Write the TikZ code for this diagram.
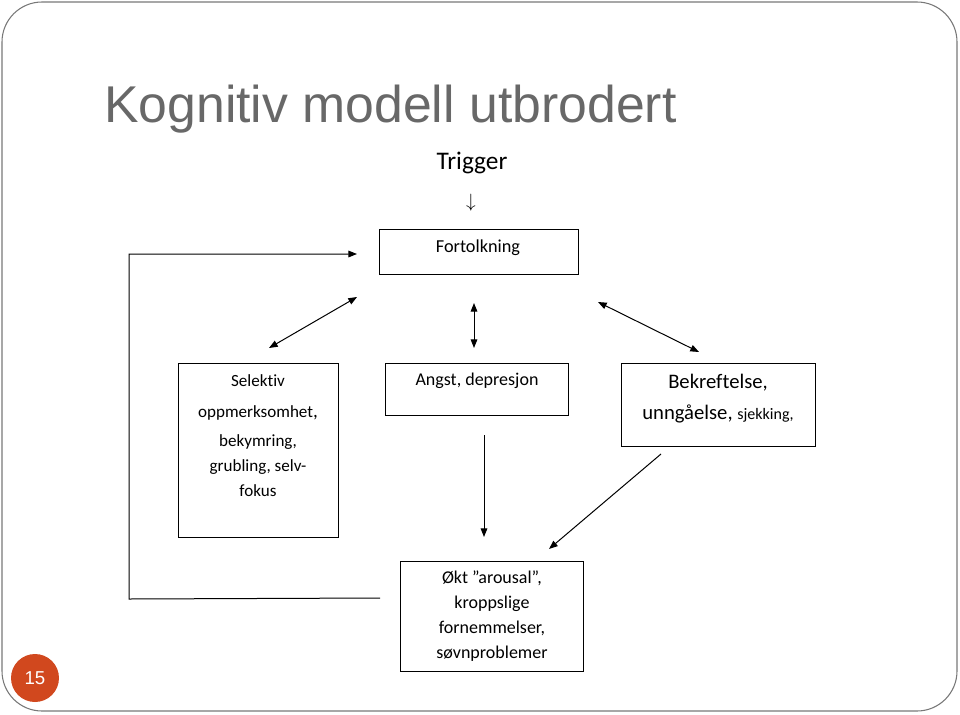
\documentclass[tikz,border=0pt]{standalone}
\usepackage{fontspec}
\setmainfont[Ligatures=NoCommon]{Carlito}
\newfontfamily\titlefont{Liberation Sans}
\usetikzlibrary{arrows.meta}

\definecolor{titlegray}{RGB}{104,104,104}
\definecolor{slideorange}{RGB}{209,72,30}
\definecolor{framegray}{RGB}{120,120,120}

\tikzset{
  boks/.style={draw, line width=0.7pt, inner sep=0pt, outer sep=0pt},
  tekst/.style={inner sep=0pt, align=center},
  pil/.style={-{Triangle[length=6.5pt,width=5pt]}, line width=0.75pt},
  dobbelpil/.style={{Triangle[length=6.5pt,width=5pt]}-{Triangle[length=6.5pt,width=5pt]}, line width=0.75pt},
}

\begin{document}
\begin{tikzpicture}[x=0.75pt,y=0.75pt,yscale=-1,xscale=1]
    \useasboundingbox (0,0) rectangle (960,714);

    %Shape: slide frame
    \draw [framegray, line width=0.8pt, rounded corners=30pt] (2,2) rectangle (957,711);

    % Title
    \node [anchor=base west, inner sep=0pt, text=titlegray, font=\titlefont\fontsize{38.8}{40}\selectfont] (tittel) at (104,122) {Kognitiv modell utbrodert};

    % Trigger
    \node [tekst, anchor=base, font=\fontsize{19}{22}\selectfont] (trigger) at (472,169) {Trigger};
    \node [tekst, font=\Large] (pilned) at (471,203) {$\downarrow$};

    %Shape: Rectangles
    \node [boks, minimum width=149.25pt, minimum height=33.75pt] (fortolk) at (478.5,251.5) {};
    \node [boks, minimum width=120pt, minimum height=130.5pt] (selektiv) at (258,450) {};
    \node [boks, minimum width=137.25pt, minimum height=39pt] (angst) at (476.5,389) {};
    \node [boks, minimum width=145.5pt, minimum height=62.25pt] (bekreft) at (718,404.5) {};
    \node [boks, minimum width=137.25pt, minimum height=82.5pt] (okt) at (491.5,616) {};

    % Text Nodes
    \node [tekst, anchor=base, font=\fontsize{13.7}{15}\selectfont] (fortolkT) at (478,252) {Fortolkning};
    \node [tekst, anchor=north, font=\fontsize{12.8}{18.75}\selectfont] (selektivT) at (258,374)
      {Selektiv\\[4.5pt] oppmerksomhet{\Large,}\\[3.5pt] bekymring,\\ grubling, selv-\\ fokus};
    \node [tekst, anchor=base, font=\fontsize{13.5}{15}\selectfont] (angstT) at (477,385) {Angst, depresjon};
    \node [tekst, anchor=north, font=\fontsize{15.5}{23}\selectfont] (bekreftT) at (718,374)
      {Bekreftelse,\\ unngåelse, {\fontsize{12}{13}\selectfont sjekking,}};
    \node [tekst, anchor=north, font=\fontsize{13.5}{18.75}\selectfont] (oktT) at (492,571)
      {Økt ”arousal”,\\ kroppslige\\ fornemmelser,\\ søvnproblemer};

    % Arrow ends
    \coordinate (fbA) at (380,598);
    \coordinate (fbB) at (129,599);
    \coordinate (fbC) at (129,254);
    \coordinate (fbD) at (357,254);
    \coordinate (v1) at (269,348);
    \coordinate (v2) at (357,297);
    \coordinate (m1) at (474,303);
    \coordinate (m2) at (474,348);
    \coordinate (h1) at (598,302);
    \coordinate (h2) at (699,352);
    \coordinate (n1) at (484,435);
    \coordinate (n2) at (484,537);
    \coordinate (s1) at (661,454);
    \coordinate (s2) at (549,549);

    %Straight Lines
    \draw [pil] (fbA) -- (fbB) -- (fbC) -- (fbD);
    \draw [dobbelpil] (v1) -- (v2);
    \draw [dobbelpil] (m1) -- (m2);
    \draw [dobbelpil] (h1) -- (h2);
    \draw [pil] (n1) -- (n2);
    \draw [pil] (s1) -- (s2);

    % Page number
    \node [circle, fill=slideorange, minimum size=36pt, inner sep=0pt, text=white, font=\titlefont\fontsize{14}{15}\selectfont] (sidenr) at (35,678) {15};

\end{tikzpicture}
\end{document}
